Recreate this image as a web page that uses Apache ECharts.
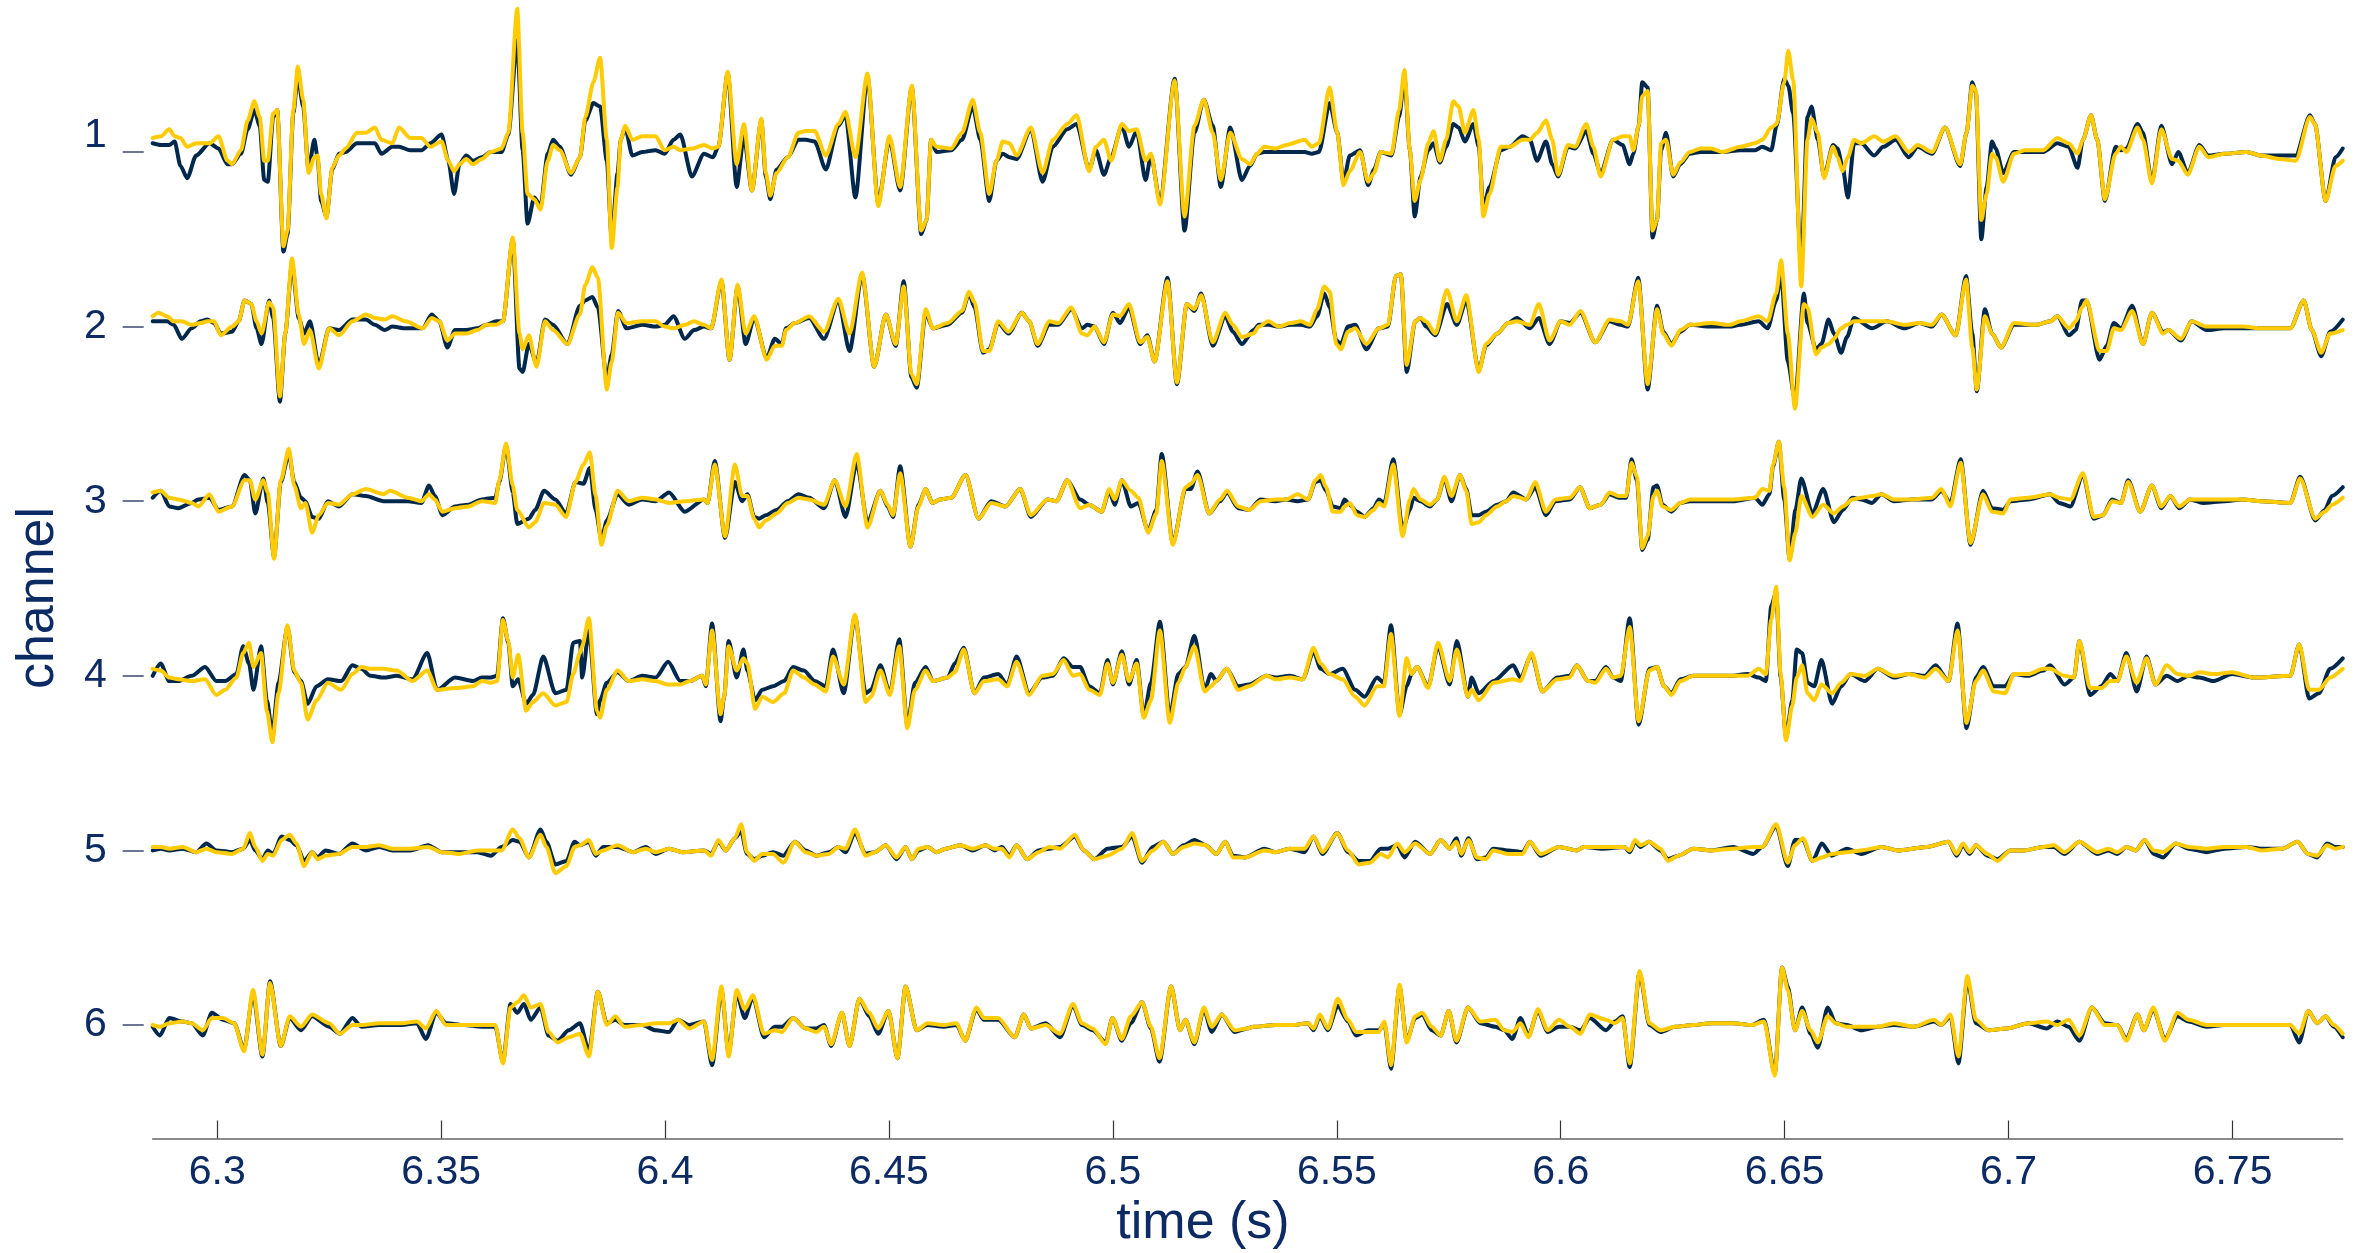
<!DOCTYPE html>
<html>
<head>
<meta charset="utf-8">
<script src="https://cdn.jsdelivr.net/npm/echarts@6/dist/echarts.min.js"></script>
<style>
  html, body { margin: 0; padding: 0; background: #ffffff; }
  #chart { width: 2359px; height: 1253px; }
</style>
</head>
<body>
<div id="chart"></div>
<script>
// Six recording channels, two overlaid traces per channel.
// Each row: [time (s), blue trace, maize trace]; amplitudes are in
// hundredths of the channel spacing (positive = upward deflection).
const channelRows = [1, 2, 3, 4, 5, 6];
const timeTicks = [6.3, 6.35, 6.4, 6.45, 6.5, 6.55, 6.6, 6.65, 6.7, 6.75];

const channel1 = [
[6.2856,5,8],[6.2874,4,9],[6.2893,4,13],[6.2905,6,9],[6.2918,-8,8],[6.2933,-15,3],[6.2953,-2,5],[6.2983,5,5],[6.3003,2,9],[6.3023,-7,-5],[6.3033,-7,-7],[6.3053,-1,1],[6.3068,13,18],[6.3083,24,29],[6.3095,15,20],[6.3105,-16,-5],[6.3113,-17,-5],[6.3125,20,22],[6.3134,24,24],[6.3148,-57,-54],[6.3157,-47,-45],[6.3170,22,24],[6.3180,43,49],[6.3192,26,30],[6.3204,-10,-12],[6.3217,7,-3],[6.3224,-3,-2],[6.3232,-28,-24],[6.3244,-37,-38],[6.3257,-10,-9],[6.3272,-1,-2],[6.3287,0,2],[6.3312,5,11],[6.3332,5,11],[6.3352,5,14],[6.3367,-1,7],[6.3391,3,5],[6.3406,3,14],[6.3431,1,8],[6.3456,1,8],[6.3476,5,3],[6.3501,10,6],[6.3516,-5,-5],[6.3529,-24,-11],[6.3541,-7,-7],[6.3556,-2,-4],[6.3571,-5,-7],[6.3591,-3,-4],[6.3611,0,0],[6.3635,0,2],[6.3650,10,11],[6.3670,64,82],[6.3682,1,11],[6.3693,-41,-24],[6.3708,-26,-27],[6.3722,-31,-33],[6.3738,-1,-5],[6.3750,7,4],[6.3765,3,1],[6.3790,-13,-12],[6.3810,-3,-3],[6.3822,18,20],[6.3840,28,40],[6.3855,26,54],[6.3870,-5,7],[6.3881,-50,-55],[6.3894,-12,-20],[6.3901,7,7],[6.3911,14,15],[6.3927,-2,7],[6.3949,0,9],[6.3979,1,9],[6.3999,-1,1],[6.4019,7,3],[6.4034,10,1],[6.4060,-14,2],
[6.4087,-1,4],[6.4107,-3,2],[6.4119,3,3],[6.4140,45,46],[6.4160,-20,-7],[6.4176,9,16],[6.4194,-22,-22],[6.4215,18,19],[6.4225,-14,-12],[6.4235,-27,-25],[6.4249,-10,-12],[6.4274,-3,-3],[6.4298,7,11],[6.4314,7,12],[6.4334,6,12],[6.4359,-10,-2],[6.4387,15,16],[6.4403,21,23],[6.4425,-26,-3],[6.4452,43,45],[6.4476,-29,-31],[6.4501,7,9],[6.4525,-22,-20],[6.4551,37,38],[6.4572,-47,-45],[6.4584,-39,-39],[6.4594,7,7],[6.4606,0,3],[6.4639,1,2],[6.4663,7,11],[6.4687,26,30],[6.4704,7,11],[6.4724,-28,-24],[6.4740,-5,-5],[6.4754,-1,6],[6.4769,-3,5],[6.4785,-4,-2],[6.4817,13,14],[6.4843,-17,-12],[6.4866,3,7],[6.4898,13,16],[6.4919,16,21],[6.4947,-10,-11],[6.4962,1,3],[6.4980,-13,7],[6.4996,-3,-5],[6.5020,15,16],[6.5036,3,12],[6.5053,12,13],[6.5073,-16,-5],[6.5085,-2,-1],[6.5105,-28,-30],[6.5138,42,41],[6.5160,-45,-37],[6.5182,11,15],[6.5203,30,30],[6.5223,15,11],[6.5241,-20,-16],[6.5262,14,11],[6.5288,-16,-4],
[6.5306,-8,-7],[6.5322,-1,-1],[6.5338,0,3],[6.5363,0,2],[6.5387,0,4],[6.5428,0,7],[6.5444,-1,3],[6.5460,0,5],[6.5484,28,37],[6.5501,11,11],[6.5515,-17,-19],[6.5529,-2,-11],[6.5552,1,0],[6.5570,-19,-17],[6.5583,-10,-12],[6.5598,0,0],[6.5622,-2,-1],[6.5639,20,24],[6.5651,43,47],[6.5663,1,1],[6.5674,-37,-28],[6.5687,-14,-16],[6.5704,1,5],[6.5716,5,12],[6.5730,-6,-5],[6.5744,3,7],[6.5760,16,29],[6.5772,14,26],[6.5786,6,11],[6.5805,16,24],[6.5817,3,7],[6.5827,-32,-37],[6.5841,-20,-24],[6.5866,1,3],[6.5886,3,3],[6.5915,9,7],[6.5931,7,7],[6.5947,-5,11],[6.5967,6,18],[6.5981,-7,7],[6.5994,-14,-13],[6.6016,3,4],[6.6032,2,3],[6.6057,12,16],[6.6073,-1,3],[6.6089,-12,-14],[6.6117,7,7],[6.6138,4,9],[6.6154,-7,9],[6.6162,-1,1],[6.6174,15,15],[6.6182,40,32],[6.6194,37,35],[6.6205,-49,-45],[6.6215,-39,-39],[6.6224,1,5],[6.6235,11,7],[6.6251,-14,-13],[6.6267,-7,-6],[6.6288,-1,0],[6.6312,0,2],[6.6336,0,2],[6.6361,0,0],[6.6401,1,3],[6.6434,1,5],[6.6450,3,7],[6.6470,1,14],[6.6482,15,16],[6.6499,42,40],[6.6508,38,58],[6.6519,22,41],
[6.6537,-65,-77],[6.6551,20,7],[6.6560,26,19],[6.6574,7,11],[6.6588,-14,-15],[6.6608,4,3],[6.6618,2,-3],[6.6629,-8,-11],[6.6641,-26,-3],[6.6655,5,7],[6.6671,5,5],[6.6700,-2,9],[6.6720,3,6],[6.6748,7,9],[6.6777,-3,0],[6.6797,3,4],[6.6829,-1,0],[6.6858,14,14],[6.6892,-8,-7],[6.6906,11,11],[6.6919,40,38],[6.6927,34,35],[6.6939,-50,-39],[6.6951,-20,-24],[6.6963,6,-1],[6.6971,2,-3],[6.6988,-12,-17],[6.7012,0,-1],[6.7036,0,1],[6.7077,0,1],[6.7109,5,8],[6.7134,3,5],[6.7154,-9,-1],[6.7166,7,7],[6.7184,21,21],[6.7198,7,7],[6.7215,-28,-27],[6.7239,3,-1],[6.7251,1,3],[6.7263,2,0],[6.7288,16,14],[6.7300,11,7],[6.7320,-17,-18],[6.7341,15,13],[6.7365,-7,-4],[6.7379,0,-5],[6.7400,-12,-13],[6.7426,4,3],[6.7446,-2,-3],[6.7482,-1,-1],[6.7531,0,0],[6.7564,-2,-2],[6.7604,-2,-4],[6.7641,-2,-5],[6.7673,21,20],[6.7684,16,16],[6.7708,-28,-28],[6.7730,-3,-8],[6.7746,2,-5]
];

const channel2 = [
[6.2856,3,6],[6.2869,3,8],[6.2888,3,6],[6.2903,1,3],[6.2921,-7,3],[6.2943,-1,1],[6.2963,3,2],[6.2978,4,3],[6.2993,2,3],[6.3008,-4,-5],[6.3033,-3,0],[6.3048,3,3],[6.3061,15,15],[6.3076,13,13],[6.3088,-1,3],[6.3099,-10,-4],[6.3116,15,14],[6.3125,5,11],[6.3140,-43,-40],[6.3152,-4,-4],[6.3167,36,39],[6.3182,5,7],[6.3194,-4,-10],[6.3207,3,-2],[6.3227,-22,-24],[6.3250,-1,-1],[6.3272,-2,-5],[6.3302,4,3],[6.3332,4,7],[6.3352,1,5],[6.3374,-2,4],[6.3391,0,6],[6.3421,-1,3],[6.3459,-1,-1],[6.3479,7,5],[6.3496,3,3],[6.3514,-12,-8],[6.3531,-2,-4],[6.3556,-2,-4],[6.3581,-1,-2],[6.3601,1,1],[6.3623,3,1],[6.3638,3,3],[6.3660,50,51],[6.3675,-24,-4],[6.3682,-26,-13],[6.3696,-10,-5],[6.3713,-21,-23],[6.3732,4,3],[6.3750,1,-2],[6.3782,-10,-10],[6.3810,12,7],[6.3822,15,24],[6.3838,17,34],[6.3850,11,28],[6.3870,-30,-36],[6.3881,-16,-20],[6.3895,9,8],[6.3914,-1,2],[6.3949,1,3],[6.3979,0,3],[6.3999,1,0],[6.4019,6,-1],[6.4044,-7,1],[6.4065,-2,3],
[6.4087,0,1],[6.4103,-1,-1],[6.4126,26,27],[6.4144,-19,-19],[6.4162,23,24],[6.4180,-10,-4],[6.4199,5,6],[6.4227,-18,-19],[6.4245,-7,-11],[6.4261,-10,-11],[6.4270,-1,-2],[6.4290,2,2],[6.4322,5,6],[6.4355,-7,-3],[6.4387,15,16],[6.4412,-14,-4],[6.4440,30,31],[6.4467,-23,-23],[6.4493,7,7],[6.4515,-11,-10],[6.4533,26,23],[6.4550,-29,-27],[6.4562,-35,-33],[6.4582,8,10],[6.4598,-1,-1],[6.4631,1,2],[6.4663,8,9],[6.4679,19,20],[6.4691,11,14],[6.4710,-15,-14],[6.4724,-13,-14],[6.4744,2,3],[6.4767,-4,-3],[6.4797,8,8],[6.4813,3,3],[6.4832,-11,-10],[6.4858,1,3],[6.4878,1,2],[6.4907,10,11],[6.4931,-1,-4],[6.4943,1,-5],[6.4959,0,0],[6.4980,-10,-9],[6.5000,8,7],[6.5016,2,6],[6.5036,11,13],[6.5061,-10,-9],[6.5077,-5,-6],[6.5093,-20,-20],[6.5122,28,26],[6.5143,-33,-32],[6.5165,13,13],[6.5182,9,10],[6.5197,19,18],[6.5223,-11,-9],[6.5251,6,8],[6.5268,-3,1],[6.5288,-10,-6],
[6.5314,-2,-4],[6.5326,1,0],[6.5347,1,3],[6.5371,0,0],[6.5395,1,2],[6.5420,1,3],[6.5440,0,1],[6.5456,6,10],[6.5472,19,23],[6.5484,11,20],[6.5499,-8,-10],[6.5509,-10,-13],[6.5525,0,-3],[6.5541,1,-1],[6.5566,-13,-10],[6.5594,-1,-1],[6.5614,0,1],[6.5632,29,29],[6.5643,30,30],[6.5656,-26,-22],[6.5675,3,3],[6.5687,5,5],[6.5699,0,3],[6.5720,-5,-4],[6.5746,13,21],[6.5768,1,3],[6.5789,15,18],[6.5817,-25,-26],[6.5833,-11,-10],[6.5858,-4,-4],[6.5882,2,2],[6.5902,5,3],[6.5931,-1,1],[6.5951,5,13],[6.5975,-10,-8],[6.6000,3,3],[6.6020,2,1],[6.6044,8,9],[6.6077,-9,-9],[6.6109,3,4],[6.6134,1,3],[6.6150,0,1],[6.6173,28,26],[6.6194,-36,-33],[6.6215,12,10],[6.6229,-3,-4],[6.6247,-10,-11],[6.6267,-3,-2],[6.6288,1,1],[6.6336,0,2],[6.6377,0,1],[6.6401,1,3],[6.6442,3,6],[6.6462,-1,3],[6.6481,15,19],[6.6492,30,38],[6.6507,-20,-4],[6.6523,-42,-47],[6.6543,19,13],
[6.6551,2,11],[6.6570,-13,-16],[6.6582,-10,-12],[6.6598,4,-10],[6.6610,-4,-7],[6.6626,-15,-1],[6.6639,-6,1],[6.6655,5,3],[6.6695,-1,3],[6.6728,3,3],[6.6768,-1,1],[6.6801,2,2],[6.6829,0,1],[6.6850,7,7],[6.6882,-5,-5],[6.6905,29,27],[6.6919,-4,-12],[6.6929,-37,-36],[6.6947,10,6],[6.6963,-4,-4],[6.6983,-12,-12],[6.7012,1,2],[6.7061,1,1],[6.7093,3,3],[6.7109,6,6],[6.7135,-5,-1],[6.7150,-2,3],[6.7164,15,11],[6.7174,15,15],[6.7203,-19,-14],[6.7219,-11,-14],[6.7235,2,-1],[6.7251,-1,-2],[6.7276,12,9],[6.7300,-10,-10],[6.7320,8,8],[6.7345,-3,-4],[6.7357,-2,-2],[6.7385,-8,-7],[6.7409,3,3],[6.7442,-2,0],[6.7482,-1,0],[6.7523,-1,0],[6.7564,-1,-1],[6.7629,-1,-1],[6.7659,15,15],[6.7677,-2,-2],[6.7698,-17,-15],[6.7718,-3,-4],[6.7746,4,-2]
];

const channel3 = [
[6.2856,2,5],[6.2874,6,6],[6.2893,-3,2],[6.2913,-4,1],[6.2943,-1,-1],[6.2958,1,-3],[6.2983,2,4],[6.3003,-5,-6],[6.3033,-3,-3],[6.3061,15,12],[6.3073,12,12],[6.3085,-7,1],[6.3103,13,12],[6.3113,-1,5],[6.3127,-32,-33],[6.3142,11,12],[6.3160,27,30],[6.3172,11,9],[6.3187,2,-4],[6.3197,0,-1],[6.3212,-9,-18],[6.3227,-10,-8],[6.3247,0,-1],[6.3272,-3,-2],[6.3302,4,4],[6.3332,3,7],[6.3372,0,4],[6.3386,0,6],[6.3426,0,2],[6.3456,-1,0],[6.3473,9,4],[6.3486,3,1],[6.3503,-8,-6],[6.3531,-3,-4],[6.3561,-2,-3],[6.3591,1,0],[6.3621,2,-1],[6.3630,11,12],[6.3645,32,33],[6.3660,5,9],[6.3670,-13,-5],[6.3696,-10,-15],[6.3710,-5,-12],[6.3730,6,-1],[6.3755,1,-2],[6.3779,-7,-9],[6.3800,11,11],[6.3818,10,21],[6.3832,19,28],[6.3845,-5,3],[6.3858,-22,-25],[6.3870,-11,-14],[6.3894,4,6],[6.3919,-2,0],[6.3949,1,2],[6.3979,0,1],[6.4009,5,-1],[6.4044,-6,0],
[6.4087,1,1],[6.4095,-1,-1],[6.4111,23,21],[6.4134,-21,-20],[6.4156,11,21],[6.4172,0,3],[6.4184,4,3],[6.4199,-9,-10],[6.4210,-10,-15],[6.4225,-8,-11],[6.4249,-5,-7],[6.4274,0,-1],[6.4298,4,2],[6.4322,2,1],[6.4355,-4,-2],[6.4379,12,12],[6.4403,-9,-3],[6.4428,22,27],[6.4452,-12,-15],[6.4481,6,6],[6.4497,-3,-2],[6.4509,-9,-8],[6.4525,20,16],[6.4548,-26,-26],[6.4566,-2,-3],[6.4582,7,7],[6.4597,-1,-1],[6.4614,1,1],[6.4639,2,2],[6.4671,15,15],[6.4700,-10,-10],[6.4728,0,-1],[6.4760,-3,-3],[6.4793,7,7],[6.4817,-9,-8],[6.4854,1,1],[6.4874,0,0],[6.4898,12,12],[6.4927,1,-4],[6.4947,-2,-2],[6.4975,-6,-6],[6.4992,6,7],[6.5004,-2,1],[6.5020,12,12],[6.5040,-3,6],[6.5057,-1,2],[6.5079,-17,-18],[6.5097,-5,-7],[6.5109,27,23],[6.5134,-24,-25],[6.5162,7,8],[6.5174,7,10],[6.5189,17,15],[6.5215,-7,-7],[6.5239,0,1],[6.5255,5,6],[6.5280,-4,-3],[6.5304,-5,-5],
[6.5330,1,0],[6.5363,0,1],[6.5387,1,1],[6.5412,0,4],[6.5436,1,1],[6.5452,11,12],[6.5464,12,15],[6.5476,6,8],[6.5491,-3,-6],[6.5509,-4,-6],[6.5517,1,-3],[6.5529,-2,-1],[6.5545,-6,-8],[6.5562,-9,-9],[6.5582,-4,-5],[6.5594,1,-1],[6.5606,-1,-3],[6.5626,24,21],[6.5647,-16,-20],[6.5663,-5,1],[6.5671,2,7],[6.5687,0,1],[6.5708,-3,-2],[6.5724,1,1],[6.5740,13,14],[6.5756,0,3],[6.5775,15,15],[6.5789,7,6],[6.5801,-8,-13],[6.5817,-8,-12],[6.5833,-6,-8],[6.5858,-2,-3],[6.5878,0,0],[6.5894,5,3],[6.5923,1,1],[6.5943,8,11],[6.5967,-8,-6],[6.5988,0,1],[6.6020,1,2],[6.6043,8,8],[6.6065,-4,-4],[6.6089,-2,-2],[6.6109,4,5],[6.6130,2,3],[6.6146,2,3],[6.6158,24,22],[6.6170,12,14],[6.6182,-28,-27],[6.6194,-22,-20],[6.6207,8,3],[6.6215,9,6],[6.6227,-2,-3],[6.6247,-6,-5],[6.6267,-1,-1],[6.6288,0,1],[6.6336,0,1],[6.6385,0,1],[6.6434,2,2],[6.6450,-2,7],[6.6466,4,6],[6.6474,20,21],[6.6487,34,34],[6.6499,1,8],[6.6511,-33,-34],[6.6524,-5,-18],[6.6537,13,3],
[6.6562,-7,-9],[6.6586,7,-2],[6.6610,-12,-7],[6.6630,-5,-3],[6.6651,2,1],[6.6671,1,2],[6.6695,-1,3],[6.6716,4,4],[6.6744,0,1],[6.6785,1,1],[6.6829,1,2],[6.6850,6,7],[6.6870,-1,-3],[6.6893,24,22],[6.6915,-25,-24],[6.6943,6,4],[6.6963,-4,-6],[6.6988,-5,-7],[6.7004,0,1],[6.7044,1,2],[6.7093,4,4],[6.7113,-1,2],[6.7138,-3,1],[6.7166,15,16],[6.7190,-10,-9],[6.7211,-8,-8],[6.7231,1,0],[6.7251,-1,-1],[6.7267,12,11],[6.7294,-6,-6],[6.7320,9,9],[6.7341,-4,-3],[6.7361,3,3],[6.7381,-4,-3],[6.7405,1,1],[6.7434,-1,1],[6.7482,0,1],[6.7523,1,1],[6.7564,0,0],[6.7629,-1,-1],[6.7651,14,13],[6.7685,-11,-10],[6.7706,-5,-6],[6.7722,3,-2],[6.7746,8,2]
];

const channel4 = [
[6.2856,0,4],[6.2874,7,3],[6.2893,-3,-1],[6.2913,-3,-2],[6.2943,0,-3],[6.2973,5,-2],[6.2998,-3,-11],[6.3018,-3,-8],[6.3043,1,-1],[6.3058,17,13],[6.3071,7,19],[6.3081,-8,5],[6.3098,17,13],[6.3111,-14,-20],[6.3123,-33,-38],[6.3137,-4,-10],[6.3157,28,29],[6.3172,2,3],[6.3187,-3,-4],[6.3202,-16,-25],[6.3222,-6,-14],[6.3247,-2,-4],[6.3277,-3,-8],[6.3302,6,1],[6.3322,4,5],[6.3342,0,4],[6.3372,-1,4],[6.3401,0,3],[6.3436,-2,-3],[6.3469,13,3],[6.3491,-8,-8],[6.3531,-1,-7],[6.3571,-3,-6],[6.3591,-1,-3],[6.3611,-1,-4],[6.3625,0,-3],[6.3638,33,32],[6.3650,19,20],[6.3660,-6,-1],[6.3672,-2,12],[6.3690,-16,-20],[6.3705,-11,-15],[6.3728,11,-10],[6.3755,-10,-17],[6.3780,-8,-15],[6.3795,19,1],[6.3810,20,13],[6.3815,-1,17],[6.3830,26,33],[6.3848,-22,-20],[6.3855,-14,-24],[6.3870,-4,-8],[6.3894,2,3],[6.3919,-3,-3],[6.3949,0,-2],[6.3979,-1,-3],[6.4007,8,-5],[6.4034,-3,-5],
[6.4055,-3,-3],[6.4083,0,0],[6.4091,-6,-5],[6.4105,30,26],[6.4124,-26,-22],[6.4132,-12,-12],[6.4142,20,17],[6.4160,-1,3],[6.4175,15,10],[6.4184,3,7],[6.4201,-14,-19],[6.4217,-8,-12],[6.4241,-6,-15],[6.4266,-3,-10],[6.4286,5,3],[6.4310,3,-1],[6.4334,-3,-5],[6.4359,-6,-9],[6.4375,15,11],[6.4399,-10,-5],[6.4424,34,35],[6.4448,-10,-15],[6.4460,-8,-12],[6.4481,6,3],[6.4502,-10,-11],[6.4523,21,17],[6.4541,-28,-30],[6.4558,-4,-8],[6.4582,5,3],[6.4598,-3,-3],[6.4631,-1,-1],[6.4647,7,2],[6.4667,16,15],[6.4691,-10,-10],[6.4712,-1,-3],[6.4744,1,-2],[6.4764,-5,-6],[6.4785,11,8],[6.4813,-10,-11],[6.4842,-1,0],[6.4866,0,1],[6.4890,10,9],[6.4911,5,0],[6.4927,5,1],[6.4947,-6,-8],[6.4971,-10,-11],[6.4988,9,7],[6.5000,-5,-4],[6.5020,14,12],[6.5036,-5,-3],[6.5053,9,7],[6.5069,-23,-24],[6.5085,-4,-14],[6.5105,31,26],[6.5127,-23,-27],[6.5146,1,-4],[6.5162,5,5],[6.5182,23,17],[6.5205,-8,-9],[6.5219,1,-6],[6.5231,-3,-3],[6.5254,4,4],[6.5280,-6,-8],[6.5304,-5,-6],
[6.5343,0,0],[6.5363,-1,-2],[6.5395,0,-1],[6.5424,-2,-2],[6.5448,14,16],[6.5464,4,7],[6.5484,1,1],[6.5513,4,-2],[6.5541,-8,-12],[6.5562,-12,-17],[6.5590,-1,-6],[6.5605,-4,-6],[6.5621,29,24],[6.5640,-22,-23],[6.5656,-6,10],[6.5667,1,1],[6.5679,5,5],[6.5704,-6,-7],[6.5726,17,19],[6.5752,-5,-3],[6.5768,20,15],[6.5793,-12,-12],[6.5801,-1,-8],[6.5817,-10,-14],[6.5850,-3,-4],[6.5894,6,-2],[6.5910,-1,-3],[6.5935,12,13],[6.5959,-9,-9],[6.5992,-1,-2],[6.6020,0,-1],[6.6036,6,6],[6.6061,-3,-3],[6.6077,-3,-4],[6.6101,5,4],[6.6117,-1,-1],[6.6134,-3,0],[6.6154,33,28],[6.6174,-28,-26],[6.6198,4,3],[6.6215,5,5],[6.6231,-6,-6],[6.6247,-10,-11],[6.6267,-2,-3],[6.6296,0,0],[6.6336,0,0],[6.6377,0,0],[6.6418,1,0],[6.6442,-1,4],[6.6458,-3,1],[6.6470,40,32],[6.6481,48,51],[6.6491,-1,1],[6.6503,-35,-37],[6.6517,-14,-17],[6.6527,15,-1],[6.6539,13,6],[6.6551,-4,-10],
[6.6566,-6,-14],[6.6582,9,-5],[6.6606,-16,-10],[6.6626,-6,-4],[6.6647,1,1],[6.6679,-3,0],[6.6708,4,4],[6.6744,-1,0],[6.6777,1,1],[6.6813,0,-1],[6.6837,6,4],[6.6866,-3,-3],[6.6886,30,26],[6.6906,-30,-27],[6.6927,-1,-3],[6.6943,5,3],[6.6967,-6,-9],[6.6992,-6,-10],[6.7012,1,1],[6.7044,0,1],[6.7077,3,4],[6.7093,6,4],[6.7125,-5,0],[6.7146,-1,-1],[6.7158,20,20],[6.7182,-11,-7],[6.7207,-6,-7],[6.7227,1,-3],[6.7243,-3,-3],[6.7263,13,11],[6.7286,-9,-4],[6.7308,11,10],[6.7328,-5,-5],[6.7353,0,6],[6.7377,-3,1],[6.7402,0,0],[6.7426,-1,2],[6.7458,-3,1],[6.7499,1,2],[6.7547,-1,-1],[6.7629,0,0],[6.7649,18,18],[6.7671,-13,-8],[6.7693,-10,-8],[6.7718,4,-1],[6.7746,10,4]
];

const channel5 = [
[6.2856,0,2],[6.2874,1,2],[6.2893,0,1],[6.2923,1,2],[6.2953,-1,-1],[6.2976,4,1],[6.2998,0,-1],[6.3033,-1,-2],[6.3058,1,1],[6.3073,6,10],[6.3085,0,2],[6.3101,-5,-6],[6.3113,0,-2],[6.3125,-2,-3],[6.3144,8,6],[6.3162,6,9],[6.3177,3,4],[6.3194,-6,-9],[6.3212,-1,-1],[6.3224,-4,-5],[6.3242,0,-3],[6.3272,-2,-2],[6.3302,4,2],[6.3332,0,2],[6.3362,2,3],[6.3391,0,1],[6.3431,0,1],[6.3471,3,2],[6.3501,-1,-1],[6.3541,-1,-2],[6.3581,-1,0],[6.3611,-3,0],[6.3635,2,0],[6.3660,6,12],[6.3675,5,7],[6.3696,-4,-4],[6.3722,12,9],[6.3735,5,2],[6.3755,-8,-13],[6.3780,-6,-9],[6.3798,5,2],[6.3810,3,3],[6.3830,5,6],[6.3845,-3,-2],[6.3862,2,0],[6.3894,2,3],[6.3929,-1,-1],[6.3957,2,1],[6.3979,-2,-1],[6.4009,1,1],[6.4039,-1,-1],
[6.4087,0,0],[6.4103,-2,-3],[6.4119,5,6],[6.4136,0,0],[6.4156,7,7],[6.4170,11,15],[6.4183,-2,-1],[6.4199,-5,-6],[6.4217,-3,-2],[6.4241,-1,-2],[6.4264,-3,-7],[6.4290,5,5],[6.4314,0,-1],[6.4338,-3,-3],[6.4366,-1,-2],[6.4387,2,2],[6.4403,-1,1],[6.4424,10,12],[6.4448,-2,-3],[6.4468,-1,-1],[6.4493,3,3],[6.4517,-5,-4],[6.4537,2,2],[6.4551,-5,-5],[6.4566,0,1],[6.4586,2,2],[6.4606,-1,-1],[6.4627,1,1],[6.4659,3,3],[6.4687,0,1],[6.4716,3,3],[6.4736,0,1],[6.4752,2,1],[6.4769,-3,-4],[6.4785,3,3],[6.4809,-5,-5],[6.4834,0,-1],[6.4858,1,2],[6.4882,2,1],[6.4915,8,9],[6.4935,0,0],[6.4959,-5,-5],[6.4988,1,-3],[6.5020,2,1],[6.5043,8,10],[6.5065,-7,-6],[6.5089,2,0],[6.5113,5,5],[6.5134,-2,-2],[6.5158,3,2],[6.5182,6,4],[6.5207,3,3],[6.5231,-2,-2],[6.5251,5,5],[6.5268,-3,-4],[6.5296,-4,-4],
[6.5338,1,0],[6.5363,-1,-1],[6.5395,1,1],[6.5428,-1,1],[6.5448,8,8],[6.5468,-2,-1],[6.5501,10,10],[6.5525,-1,0],[6.5549,-6,-8],[6.5574,-6,-7],[6.5598,1,-2],[6.5614,1,-4],[6.5635,3,4],[6.5651,-4,-1],[6.5675,5,4],[6.5708,-2,-2],[6.5732,6,6],[6.5752,1,1],[6.5767,7,5],[6.5778,-3,-2],[6.5794,7,6],[6.5813,-5,-4],[6.5833,-4,-5],[6.5849,1,0],[6.5882,0,-2],[6.5915,-1,-2],[6.5931,5,5],[6.5955,-3,-2],[6.5996,2,2],[6.6036,0,0],[6.6052,2,2],[6.6093,1,2],[6.6142,2,2],[6.6154,-1,0],[6.6166,5,6],[6.6178,2,3],[6.6197,5,5],[6.6223,0,1],[6.6239,-5,-6],[6.6263,-3,-3],[6.6296,1,1],[6.6336,0,0],[6.6385,2,1],[6.6430,-2,2],[6.6450,2,2],[6.6481,14,15],[6.6507,-9,-7],[6.6523,6,3],
[6.6541,6,7],[6.6562,-6,-6],[6.6583,4,-4],[6.6605,-3,-2],[6.6639,1,-1],[6.6671,-2,0],[6.6716,2,2],[6.6752,0,0],[6.6817,2,2],[6.6866,5,5],[6.6884,-3,-2],[6.6898,3,4],[6.6913,-2,-1],[6.6927,3,3],[6.6953,-3,-2],[6.6975,-5,-6],[6.7004,0,0],[6.7036,0,0],[6.7077,2,2],[6.7101,2,3],[6.7125,-2,-1],[6.7158,5,5],[6.7198,-2,-1],[6.7223,0,1],[6.7243,-2,-1],[6.7263,2,2],[6.7284,0,0],[6.7304,6,6],[6.7324,-2,0],[6.7345,-4,-1],[6.7373,4,4],[6.7402,1,2],[6.7442,-1,1],[6.7482,1,2],[6.7531,2,2],[6.7564,1,0],[6.7612,1,1],[6.7645,5,5],[6.7669,-2,-2],[6.7689,-4,-3],[6.7711,4,3],[6.7730,2,1],[6.7746,2,2]
];

const channel6 = [
[6.2856,-1,0],[6.2872,-6,-1],[6.2893,4,1],[6.2923,2,2],[6.2943,1,1],[6.2968,-6,-3],[6.2988,7,4],[6.3013,3,4],[6.3038,1,1],[6.3060,-14,-15],[6.3080,18,20],[6.3101,-18,-17],[6.3118,25,24],[6.3142,-12,-12],[6.3162,4,5],[6.3187,-3,-1],[6.3212,5,6],[6.3250,-1,1],[6.3274,-5,-5],[6.3302,4,0],[6.3322,-1,0],[6.3362,0,1],[6.3411,0,1],[6.3446,1,2],[6.3466,-8,-2],[6.3489,7,8],[6.3511,1,0],[6.3551,0,0],[6.3591,-1,0],[6.3621,-1,0],[6.3638,-21,-22],[6.3655,12,10],[6.3670,7,13],[6.3685,12,17],[6.3700,3,10],[6.3722,10,12],[6.3740,-6,-4],[6.3760,-9,-10],[6.3785,-3,-7],[6.3810,1,-5],[6.3830,-15,-18],[6.3850,19,19],[6.3870,1,0],[6.3889,3,5],[6.3909,0,-1],[6.3949,0,0],[6.3979,-3,1],[6.4009,-4,1],[6.4029,3,3],[6.4054,0,-2],
[6.4087,2,2],[6.4105,-23,-20],[6.4126,20,22],[6.4142,-16,-18],[6.4160,18,20],[6.4178,4,9],[6.4196,16,17],[6.4221,-7,-5],[6.4245,-1,-3],[6.4261,-1,-4],[6.4286,4,4],[6.4314,-2,-2],[6.4338,-2,-4],[6.4355,0,-1],[6.4371,-12,-11],[6.4395,7,7],[6.4412,-12,-12],[6.4434,15,15],[6.4456,5,7],[6.4476,-5,-2],[6.4499,8,8],[6.4519,-19,-19],[6.4537,22,22],[6.4562,-3,-3],[6.4586,0,1],[6.4622,-1,0],[6.4651,0,1],[6.4670,-9,-9],[6.4695,9,10],[6.4712,3,4],[6.4744,3,4],[6.4781,-7,-7],[6.4801,6,6],[6.4817,-2,-2],[6.4850,1,0],[6.4882,-7,-5],[6.4911,11,12],[6.4931,0,1],[6.4955,-3,-2],[6.4984,-10,-11],[6.4999,4,4],[6.5020,-9,-8],[6.5040,1,5],[6.5065,13,13],[6.5085,-2,-1],[6.5104,-21,-19],[6.5130,22,22],[6.5150,-3,-3],[6.5162,3,3],[6.5182,-11,-10],[6.5203,9,10],[6.5221,-4,-1],[6.5243,6,6],[6.5272,-4,-3],[6.5300,-2,-2],
[6.5314,-1,-1],[6.5363,0,0],[6.5403,0,0],[6.5436,1,1],[6.5448,-3,-2],[6.5462,5,6],[6.5480,-3,-2],[6.5502,11,15],[6.5525,2,3],[6.5543,-6,-4],[6.5570,-3,-4],[6.5594,-3,-4],[6.5606,1,2],[6.5621,-25,-23],[6.5640,22,23],[6.5656,-9,-10],[6.5675,4,5],[6.5691,6,7],[6.5712,-3,-1],[6.5732,-6,-6],[6.5750,8,8],[6.5767,-10,-9],[6.5793,10,10],[6.5821,1,2],[6.5854,-1,3],[6.5874,-3,-3],[6.5892,-8,-4],[6.5910,4,1],[6.5928,-6,-7],[6.5949,8,9],[6.5971,-4,-3],[6.5996,-1,3],[6.6020,-1,-1],[6.6044,-3,-5],[6.6065,4,6],[6.6101,-3,3],[6.6121,2,1],[6.6138,5,4],[6.6154,-24,-22],[6.6176,30,31],[6.6198,0,1],[6.6223,-4,-3],[6.6255,-1,-1],[6.6296,0,0],[6.6336,1,1],[6.6385,1,1],[6.6426,0,0],[6.6454,3,2],[6.6478,-28,-29],[6.6494,33,33],[6.6507,22,20],[6.6523,-3,-3],[6.6539,10,8],
[6.6558,-5,-3],[6.6574,-13,-10],[6.6596,10,5],[6.6614,1,1],[6.6639,0,-1],[6.6671,-3,-1],[6.6708,-1,-1],[6.6744,0,1],[6.6789,-1,-1],[6.6833,2,3],[6.6850,0,0],[6.6870,5,6],[6.6888,-22,-18],[6.6908,26,28],[6.6927,1,3],[6.6955,-3,-3],[6.6996,-2,-2],[6.7044,1,1],[6.7085,-2,2],[6.7109,2,0],[6.7134,-1,3],[6.7158,-9,-6],[6.7186,10,10],[6.7215,1,0],[6.7243,0,0],[6.7263,-8,-9],[6.7288,6,6],[6.7302,-3,-3],[6.7323,9,10],[6.7349,-8,-9],[6.7377,5,7],[6.7402,2,3],[6.7442,-1,0],[6.7482,0,0],[6.7531,0,0],[6.7588,0,0],[6.7629,0,0],[6.7649,-10,-5],[6.7669,8,8],[6.7689,1,1],[6.7708,5,5],[6.7726,-1,0],[6.7746,-7,-5]
];

const channels = [channel1, channel2, channel3, channel4, channel5, channel6];

const NAVY = '#00274C';
const MAIZE = '#FFCB05';
const TEXT = '#0c2a63';
const FONT = '"Liberation Sans", Arial, Helvetica, sans-serif';
const TICK_FONT_SIZE = 41;

// Each trace is placed on its channel row; the row axis is inverted so
// channel 1 sits at the top and a positive deflection points upward.
function traceSeries(rows, row, col, color) {
  return {
    type: 'line',
    data: rows.map(r => [r[0], row - r[col] / 100]),
    showSymbol: false,
    symbol: 'none',
    smooth: 0.25,
    smoothMonotone: 'x',
    silent: true,
    animation: false,
    lineStyle: { color: color, width: 4, cap: 'round', join: 'round' },
    z: col === 1 ? 2 : 3
  };
}

const series = [];
channels.forEach((rows, i) => {
  series.push(traceSeries(rows, channelRows[i], 1, NAVY));
  series.push(traceSeries(rows, channelRows[i], 2, MAIZE));
});

const chart = echarts.init(document.getElementById('chart'), null, { renderer: 'canvas' });
chart.setOption({
  backgroundColor: '#ffffff',
  animation: false,
  grid: { left: 152.7, right: 16.3, top: 0, bottom: 114.5, containLabel: false },
  xAxis: {
    type: 'value',
    min: 6.2856,
    max: 6.7746,
    axisLine: { show: true, lineStyle: { color: '#666666', width: 1.5 } },
    axisTick: { show: true, inside: true, length: 18, customValues: timeTicks,
                lineStyle: { color: '#333333', width: 1.2 } },
    axisLabel: { show: true, customValues: timeTicks, margin: 14, fontSize: TICK_FONT_SIZE,
                 color: TEXT, fontFamily: FONT },
    splitLine: { show: false }
  },
  yAxis: {
    type: 'value',
    inverse: true,
    min: 0.1294,
    max: 6.65,
    offset: 9,
    axisLine: { show: false },
    axisTick: { show: true, length: 21, customValues: channelRows,
                lineStyle: { color: '#3c4870', width: 1.5 } },
    axisLabel: {
      show: true, customValues: channelRows, margin: 37, fontSize: TICK_FONT_SIZE,
      color: TEXT, fontFamily: FONT,
      formatter: v => (v === 1 ? '{top|1}' : '{n|' + v + '}'),
      rich: {
        top: { fontSize: TICK_FONT_SIZE, color: TEXT, fontFamily: FONT, padding: [0, 0, 32, 0] },
        n: { fontSize: TICK_FONT_SIZE, color: TEXT, fontFamily: FONT }
      }
    },
    splitLine: { show: false }
  },
  graphic: [
    {
      type: 'text', x: 1203, y: 1224, silent: true,
      style: { text: 'time (s)', font: '52px ' + FONT, fill: TEXT,
               align: 'center', verticalAlign: 'middle' }
    },
    {
      type: 'text', x: 39, y: 598, rotation: Math.PI / 2, silent: true,
      style: { text: 'channel', font: '52px ' + FONT, fill: TEXT,
               align: 'center', verticalAlign: 'middle' }
    }
  ],
  series: series
});
</script>
</body>
</html>
